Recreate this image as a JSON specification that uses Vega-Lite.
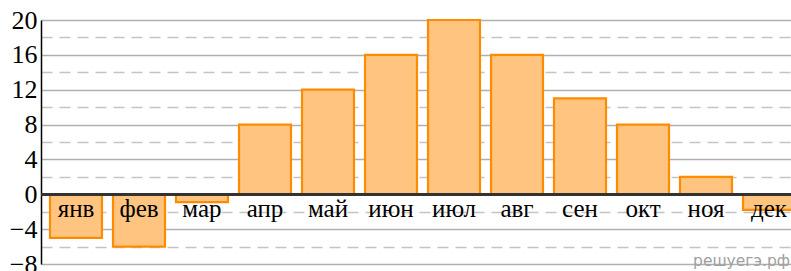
{
  "$schema": "https://vega.github.io/schema/vega-lite/v6.json",
  "width": 763,
  "height": 244,
  "autosize": "none",
  "padding": {"left": 41, "top": 20, "right": 0, "bottom": 7},
  "background": "white",
  "config": {"view": {"stroke": null}},
  "data": {
    "values": [
      {"month": "янв", "value": -5},
      {"month": "фев", "value": -6},
      {"month": "мар", "value": -0.9},
      {"month": "апр", "value": 8},
      {"month": "май", "value": 12},
      {"month": "июн", "value": 16},
      {"month": "июл", "value": 20},
      {"month": "авг", "value": 16},
      {"month": "сен", "value": 11},
      {"month": "окт", "value": 8},
      {"month": "ноя", "value": 2},
      {"month": "дек", "value": -1.8}
    ]
  },
  "encoding": {
    "x": {"field": "month", "type": "nominal", "sort": null, "axis": null,
          "scale": {"paddingInner": 0.175, "paddingOuter": 0.143}}
  },
  "layer": [
    {
      "mark": {"type": "bar", "fill": "#FFC580", "stroke": "#FF8C00", "strokeWidth": 2.2},
      "encoding": {
        "y": {"field": "value", "type": "quantitative",
              "scale": {"domain": [-8, 20], "nice": false, "zero": false},
              "axis": {
                "title": null,
                "values": [-8, -6, -4, -2, 0, 2, 4, 6, 8, 10, 12, 14, 16, 18, 20],
                "tickCount": 40,
                "format": "d",
                "labelExpr": "datum.value % 4 == 0 ? datum.label : ''",
                "labelFont": "Liberation Serif",
                "labelFontSize": 26,
                "labelColor": "black",
                "labelPadding": 4,
                "labelBaseline": "middle",
                "labelOverlap": false,
                "ticks": false,
                "domainColor": "black",
                "domainWidth": 1.5,
                "grid": true,
                "gridColor": {"condition": {"test": "datum.value % 4 != 0", "value": "#c4c4c4"}, "value": "#b0b0b0"},
                "gridDash": {"condition": {"test": "datum.value % 4 != 0", "value": [11, 7]}, "value": []},
                "gridWidth": 1.5
              }}
      }
    },
    {
      "mark": {"type": "rule", "stroke": "#333333", "strokeWidth": 2},
      "encoding": {"y": {"datum": 0}, "x": null}
    },
    {
      "mark": {"type": "text", "font": "Liberation Serif", "fontSize": 25, "baseline": "alphabetic", "dy": 23, "color": "black"},
      "encoding": {
        "y": {"datum": 0},
        "text": {"field": "month"}
      }
    },
    {
      "data": {"values": [{"month": "дек", "label": "решуегэ.рф"}]},
      "mark": {"type": "text", "font": "DejaVu Sans", "fontSize": 15.5, "align": "right", "baseline": "alphabetic", "dy": 2, "dx": 21, "color": "#a0a0a0"},
      "encoding": {
        "x": {"field": "month", "type": "nominal", "sort": null, "axis": null},
        "y": {"datum": -8},
        "text": {"field": "label"}
      }
    }
  ]
}
